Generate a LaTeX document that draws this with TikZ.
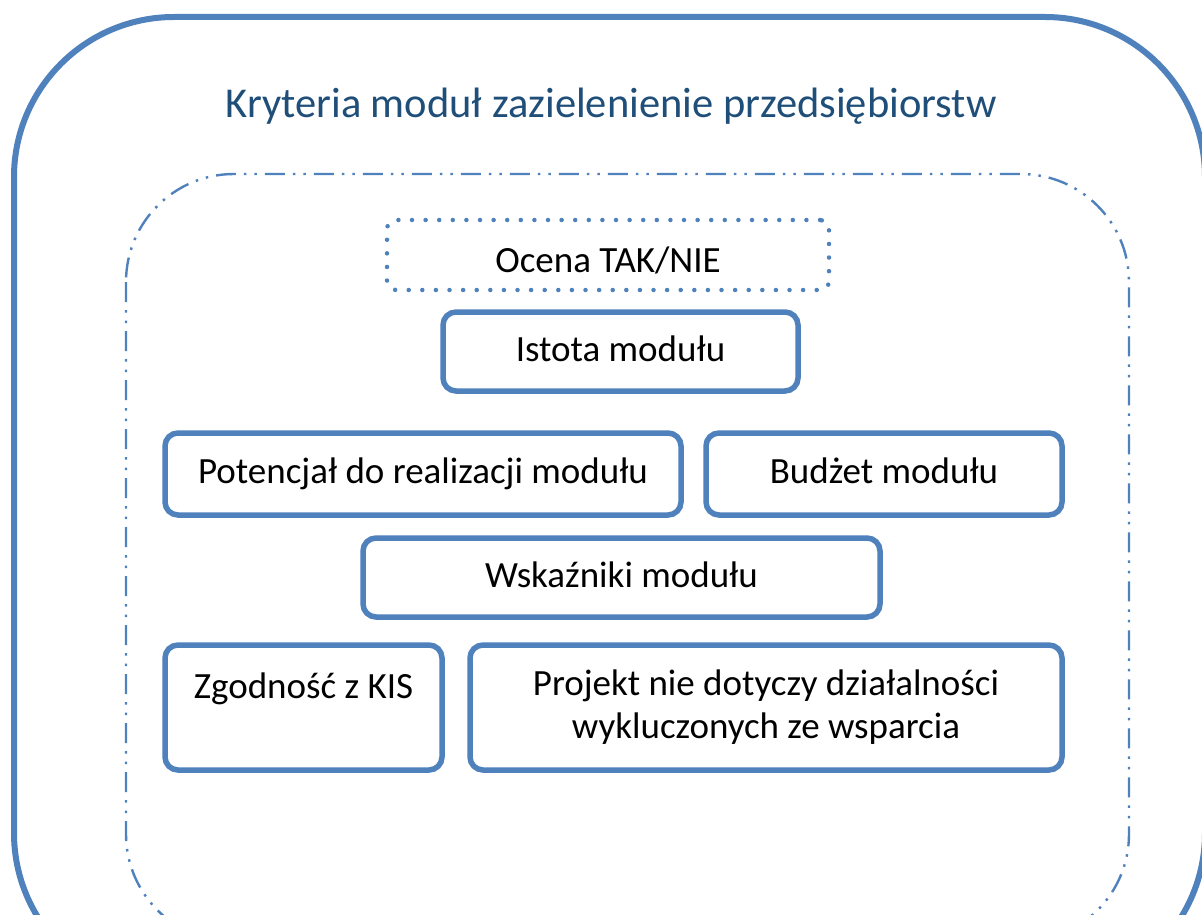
\documentclass[tikz,border=0pt]{standalone}
\usepackage{fontspec}
\setmainfont{Carlito}
\definecolor{boxblue}{RGB}{79,129,189}
\definecolor{titleblue}{RGB}{31,78,121}
\begin{document}
\begin{tikzpicture}[x=1pt,y=-1pt,
  crit/.style={draw=boxblue, line width=5.5pt, rounded corners=13pt, align=center,
    inner sep=0pt, font=\fontsize{37}{43}\selectfont, text=black},
  oneline/.style={crit, text height=27pt, text depth=8pt},
  dotbox/.style={draw=boxblue, line width=4.5pt, rounded corners=9pt,
    dash pattern=on 0pt off 13.6pt, line cap=round, inner sep=0pt,
    font=\fontsize{37}{43}\selectfont, text=black, text height=34pt, text depth=0pt},
  outerframe/.style={draw=boxblue, line width=6pt, rounded corners=160pt},
  innerframe/.style={draw=boxblue, line width=2.4pt, rounded corners=108pt,
    dash pattern=on 20pt off 8pt on 2.5pt off 8pt on 2.5pt off 8pt}
]
\useasboundingbox (0,0) rectangle (1202,915);
\clip (0,0) rectangle (1202,915);
\fill[white] (0,0) rectangle (1202,915);
\draw[outerframe] (14,17) rectangle (1205,993);
\draw[innerframe] (126,174) rectangle (1129,942);
\node[anchor=base, text=titleblue, font=\fontsize{42.5}{48}\selectfont] (title) at (611,118)
  {Kryteria moduł zazielenienie przedsiębiorstw};
\node[dotbox, minimum width=442pt, minimum height=70pt] (ocena) at (608,255) {Ocena TAK/NIE};
\node[oneline, minimum width=355pt, minimum height=79pt] (istota) at (620.5,351.5) {Istota modułu};
\node[oneline, minimum width=516pt, minimum height=82pt] (potencjal) at (423,474) {Potencjał do realizacji modułu};
\node[oneline, minimum width=356pt, minimum height=82pt] (budzet) at (884,474) {Budżet modułu};
\node[oneline, minimum width=517pt, minimum height=79pt] (wskazniki) at (621.5,577.5) {Wskaźniki modułu};
\node[crit, minimum width=277pt, minimum height=125pt] (zgodnosc) at (303.5,707.5) {Zgodność z KIS\\ \mbox{}};
\node[crit, minimum width=592pt, minimum height=125pt] (projekt) at (766,707.5) {Projekt nie dotyczy działalności\\wykluczonych ze wsparcia};
\end{tikzpicture}
\end{document}
